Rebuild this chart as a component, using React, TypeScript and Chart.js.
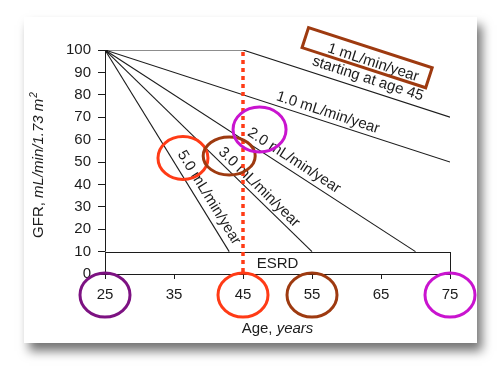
import React, { useEffect, useRef } from "react";
import { Chart, registerables } from "chart.js";

Chart.register(...registerables);

// ---- data ----
const xTickValues = [25, 35, 45, 55, 65, 75];
const yTickValues = [0, 10, 20, 30, 40, 50, 60, 70, 80, 90, 100];

const ages50 = [25, 43];
const gfr50 = [100, 10];
const ages30 = [25, 55];
const gfr30 = [100, 10];
const ages20 = [25, 70];
const gfr20 = [100, 10];
const ages10 = [25, 75];
const gfr10 = [100, 50];
const ages45 = [25, 45, 75];
const gfr45 = [100, 100, 70];

const seriesLabels = ["5.0 mL/min/year", "3.0 mL/min/year", "2.0 mL/min/year", "1.0 mL/min/year", "starting at age 45"];
const boxedLabel = "1 mL/min/year";
const esrdRange = [0, 10];
const esrdLabel = "ESRD";
const markedAge = 45;
const circledTicks = [25, 45, 55, 75];

const xTitle = ["Age, ", "years"];
const yTitle = ["GFR, ", "mL/min/1.73 m", "2"];

// ---- styling / annotation placement ----
const FAMILY = "'Liberation Sans', Arial, Helvetica, sans-serif";
const INK = "#1c1c1c";
const RED = "#ff3b16";
const BROWN = "#9e3a10";
const MAGENTA = "#c914cf";
const PURPLE = "#7d1282";
const tickCircleColors = [PURPLE, RED, BROWN, MAGENTA];

const seriesAges = [ages50, ages30, ages20, ages10, ages45];
const seriesGfr = [gfr50, gfr30, gfr20, gfr10, gfr45];

// label placement along each series: segment index, age at label center, offset above line (px)
const labelPlacement = [
  { seg: 0, at: 38.7, off: 7 },
  { seg: 0, at: 46.4, off: 5 },
  { seg: 0, at: 51.6, off: 6 },
  { seg: 0, at: 56.9, off: 5 },
  { seg: 1, at: 62.6, off: 7 },
];
const boxedPlacement = { seg: 1, at: 62.6, off: 24, boxAt: 61.6, boxOff: 31, w: 130, h: 21 };
const labelCircles = [
  { age: 36.3, gfr: 51.8, rx: 25, ry: 21.5, color: RED },
  { age: 43, gfr: 52.7, rx: 26, ry: 19, color: BROWN },
  { age: 47.4, gfr: 64.5, rx: 26.5, ry: 22.5, color: MAGENTA },
];

const annotPlugin = {
  id: "annot",
  beforeDatasetsDraw(chart: any) {
    const { ctx, scales } = chart;
    const x = scales.x, y = scales.y;
    const l = x.getPixelForValue(25), r = x.getPixelForValue(75);
    const t = y.getPixelForValue(esrdRange[1]), b = y.getPixelForValue(esrdRange[0]);
    ctx.save();
    ctx.fillStyle = "#fff";
    ctx.fillRect(l, t, r - l, b - t);
    ctx.strokeStyle = INK;
    ctx.lineWidth = 1;
    ctx.strokeRect(Math.round(l) + 0.5, Math.round(t) + 0.5, Math.round(r - l), Math.round(b - t));
    ctx.fillStyle = INK;
    ctx.font = `15px ${FAMILY}`;
    ctx.textAlign = "center";
    ctx.textBaseline = "middle";
    ctx.fillText(esrdLabel, (l + r) / 2, (t + b) / 2 + 1);
    ctx.restore();
  },
  afterDatasetsDraw(chart: any) {
    const { ctx, scales, chartArea } = chart;
    const xs = scales.x, ys = scales.y;
    const P = (a: number, g: number) => [xs.getPixelForValue(a), ys.getPixelForValue(g)];
    const segInfo = (ages: number[], gfrs: number[], seg: number, at: number) => {
      const [x0, y0] = P(ages[seg], gfrs[seg]);
      const [x1, y1] = P(ages[seg + 1], gfrs[seg + 1]);
      const t = (at - ages[seg]) / (ages[seg + 1] - ages[seg]);
      return { x: x0 + (x1 - x0) * t, y: y0 + (y1 - y0) * t, ang: Math.atan2(y1 - y0, x1 - x0) };
    };

    ctx.save();
    // line labels
    ctx.fillStyle = INK;
    ctx.font = `15px ${FAMILY}`;
    ctx.textAlign = "center";
    ctx.textBaseline = "alphabetic";
    seriesLabels.forEach((txt, i) => {
      const p = labelPlacement[i];
      const s = segInfo(seriesAges[i], seriesGfr[i], p.seg, p.at);
      ctx.save();
      ctx.translate(s.x, s.y);
      ctx.rotate(s.ang);
      ctx.fillText(txt, 0, -p.off);
      ctx.restore();
    });
    // boxed label
    {
      const s = segInfo(ages45, gfr45, boxedPlacement.seg, boxedPlacement.at);
      ctx.save();
      ctx.translate(s.x, s.y);
      ctx.rotate(s.ang);
      ctx.fillText(boxedLabel, 0, -boxedPlacement.off);
      ctx.restore();
      const sb = segInfo(ages45, gfr45, boxedPlacement.seg, boxedPlacement.boxAt);
      ctx.save();
      ctx.translate(sb.x, sb.y);
      ctx.rotate(sb.ang);
      ctx.strokeStyle = BROWN;
      ctx.lineWidth = 3;
      ctx.strokeRect(-boxedPlacement.w / 2, -boxedPlacement.boxOff - boxedPlacement.h / 2, boxedPlacement.w, boxedPlacement.h);
      ctx.restore();
    }

    // red dotted vertical line
    const mx = xs.getPixelForValue(markedAge);
    ctx.save();
    ctx.strokeStyle = RED;
    ctx.lineWidth = 3.5;
    ctx.setLineDash([4, 4]);
    ctx.beginPath();
    ctx.moveTo(mx, ys.getPixelForValue(100) + 2);
    ctx.lineTo(mx, chartArea.bottom + 2);
    ctx.stroke();
    ctx.restore();

    // circles around labels on lines
    ctx.lineWidth = 3;
    labelCircles.forEach((c) => {
      const [cx, cy] = P(c.age, c.gfr);
      ctx.strokeStyle = c.color;
      ctx.beginPath();
      ctx.ellipse(cx, cy, c.rx, c.ry, 0, 0, Math.PI * 2);
      ctx.stroke();
    });
    // circles around tick labels
    circledTicks.forEach((v, i) => {
      const cx = xs.getPixelForValue(v);
      ctx.strokeStyle = tickCircleColors[i];
      ctx.beginPath();
      ctx.ellipse(cx, chartArea.bottom + 21, 25, 22, 0, 0, Math.PI * 2);
      ctx.stroke();
    });

    // axis titles
    ctx.fillStyle = INK;
    ctx.textBaseline = "alphabetic";
    ctx.textAlign = "left";
    const nf = `15px ${FAMILY}`;
    const itf = `italic 15px ${FAMILY}`;
    const sf = `italic 10px ${FAMILY}`;
    // x title
    {
      ctx.font = nf;
      const w1 = ctx.measureText(xTitle[0]).width;
      ctx.font = itf;
      const w2 = ctx.measureText(xTitle[1]).width;
      const cx = (chartArea.left + chartArea.right) / 2;
      const by = chartArea.bottom + 59;
      let sx = cx - (w1 + w2) / 2;
      ctx.font = nf;
      ctx.fillText(xTitle[0], sx, by);
      ctx.font = itf;
      ctx.fillText(xTitle[1], sx + w1, by);
    }
    // y title
    {
      ctx.font = nf;
      const w1 = ctx.measureText(yTitle[0]).width;
      ctx.font = itf;
      const w2 = ctx.measureText(yTitle[1]).width;
      ctx.font = sf;
      const w3 = ctx.measureText(yTitle[2]).width;
      const total = w1 + w2 + w3 + 1;
      ctx.save();
      ctx.translate(chartArea.left - 62, (chartArea.top + chartArea.bottom) / 2 + 3);
      ctx.rotate(-Math.PI / 2);
      let sx = -total / 2;
      ctx.font = nf;
      ctx.fillText(yTitle[0], sx, 0);
      ctx.font = itf;
      ctx.fillText(yTitle[1], sx + w1, 0);
      ctx.font = sf;
      ctx.fillText(yTitle[2], sx + w1 + w2 + 1, -6);
      ctx.restore();
    }
    ctx.restore();
  },
};

export default function App() {
  const ref = useRef<HTMLCanvasElement>(null);
  useEffect(() => {
    if (!ref.current) return;
    const font = { family: FAMILY, size: 15 };
    const mk = (ages: number[], gfrs: number[], dot = false) => ({
      data: ages.map((a, i) => ({ x: a, y: gfrs[i] })),
      borderColor: INK,
      backgroundColor: INK,
      borderWidth: 1.1,
      pointRadius: (c: any) => (dot && c.dataIndex === 0 ? 2.5 : 0),
      fill: false,
      tension: 0,
    });
    const chart = new Chart(ref.current, {
      type: "line",
      data: {
        datasets: [
          mk(ages50, gfr50, true),
          mk(ages30, gfr30),
          mk(ages20, gfr20),
          mk(ages10, gfr10),
          mk(ages45, gfr45),
        ] as any,
      },
      options: {
        animation: false,
        responsive: false,
        maintainAspectRatio: false,
        layout: { padding: { left: 0, top: 50, right: 51, bottom: 0 } },
        plugins: { legend: { display: false }, tooltip: { enabled: false } },
        scales: {
          x: {
            type: "linear",
            min: 25,
            max: 75,
            afterBuildTicks: (s: any) => {
              s.ticks = xTickValues.map((v) => ({ value: v }));
            },
            afterFit: (s: any) => {
              s.height = 101;
            },
            grid: { drawOnChartArea: false, drawTicks: true, tickLength: 5, color: INK },
            border: { display: true, color: INK, width: 1 },
            ticks: { font, color: INK, padding: 7, maxRotation: 0, autoSkip: false },
          },
          y: {
            type: "linear",
            min: 0,
            max: 100,
            afterBuildTicks: (s: any) => {
              s.ticks = yTickValues.map((v) => ({ value: v }));
            },
            afterFit: (s: any) => {
              s.width = 105;
            },
            grid: { drawOnChartArea: false, drawTicks: true, tickLength: 7, color: INK },
            border: { display: true, color: INK, width: 1 },
            ticks: { font, color: INK, padding: 7, autoSkip: false },
          },
        },
      } as any,
      plugins: [annotPlugin],
    });
    return () => chart.destroy();
  }, []);

  return (
    <div style={{ position: "absolute", left: 0, top: 0, width: 501, height: 375, background: "#fff", overflow: "hidden" }}>
      <div
        style={{
          position: "absolute",
          left: 24,
          top: 17,
          width: 453,
          height: 326,
          background: "#fff",
          boxShadow: "5px 8px 10px rgba(0,0,0,0.55)",
        }}
      />
      <canvas ref={ref} width={501} height={375} style={{ position: "absolute", left: 0, top: 0, display: "block" }} />
    </div>
  );
}
